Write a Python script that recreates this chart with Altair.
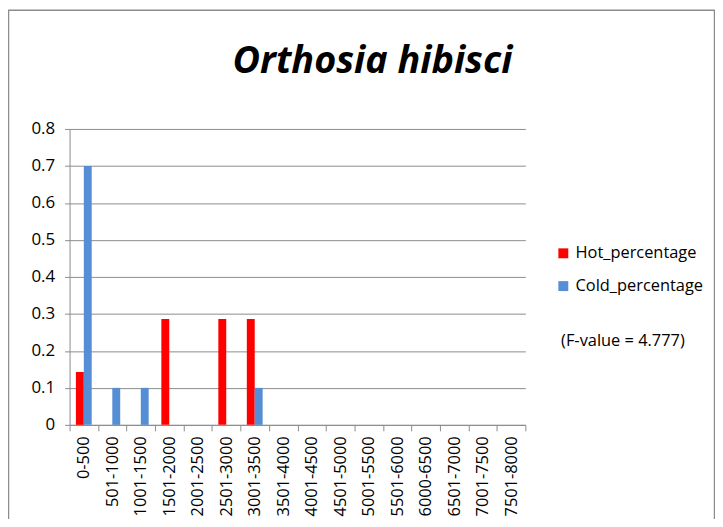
import altair as alt
import pandas as pd

categories = ["0-500", "501-1000", "1001-1500", "1501-2000", "2001-2500", "2501-3000",
              "3001-3500", "3501-4000", "4001-4500", "4501-5000", "5001-5500", "5501-6000",
              "6000-6500", "6501-7000", "7001-7500", "7501-8000"]
hot_percentage = [0.143, 0, 0, 0.286, 0, 0.286, 0.286, 0, 0, 0, 0, 0, 0, 0, 0, 0]
cold_percentage = [0.7, 0.1, 0.1, 0, 0, 0, 0.1, 0, 0, 0, 0, 0, 0, 0, 0, 0]
series_names = ["Hot_percentage", "Cold_percentage"]
series_colors = ["#FF0000", "#558ED5"]
y_ticks = [0, 0.1, 0.2, 0.3, 0.4, 0.5, 0.6, 0.7, 0.8]
title_text = "Orthosia hibisci"
note_text = "(F-value = 4.777)"

rows = []
for c, h, k in zip(categories, hot_percentage, cold_percentage):
    rows.append({"category": c, "series": series_names[0], "value": h})
    rows.append({"category": c, "series": series_names[1], "value": k})
df = pd.DataFrame(rows)

FONT = "Open Sans"
GRAY = "#8C8C8C"

bars = alt.Chart(df).mark_bar().encode(
    x=alt.X("category:N", sort=categories,
            scale=alt.Scale(paddingInner=0, paddingOuter=0),
            axis=alt.Axis(title=None, labelAngle=-90, tickBand="extent",
                          labelFontSize=16.5, labelColor="#000000", labelPadding=5,
                          tickSize=6, tickColor=GRAY, domainColor=GRAY, grid=False)),
    xOffset=alt.XOffset("series:N", sort=series_names,
                        scale=alt.Scale(paddingInner=0, paddingOuter=0.8)),
    y=alt.Y("value:Q", scale=alt.Scale(domain=[0, 0.8], nice=False),
            axis=alt.Axis(title=None, values=y_ticks,
                          labelExpr="datum.value == 0 ? '0' : format(datum.value, '.1f')",
                          labelFontSize=17, labelColor="#000000", labelPadding=10,
                          tickSize=5, tickColor=GRAY, domainColor=GRAY,
                          grid=True, gridColor=GRAY)),
    color=alt.Color("series:N", sort=series_names,
                    scale=alt.Scale(domain=series_names, range=series_colors),
                    legend=alt.Legend(title=None, orient="none", legendX=489, legendY=117,
                                      symbolType="square", symbolSize=100,
                                      symbolStrokeWidth=0, labelFontSize=16.5,
                                      labelColor="#000000", labelOffset=4,
                                      rowPadding=16, padding=0)),
)

note = alt.Chart(pd.DataFrame({"t": [note_text]})).mark_text(
    align="left", baseline="middle", fontSize=16.5, font=FONT, color="#000000"
).encode(text="t:N", x=alt.value(495), y=alt.value(214))

title = alt.Chart(pd.DataFrame({"t": [title_text]})).mark_text(
    align="center", baseline="alphabetic", fontSize=38, font=FONT,
    fontStyle="italic", fontWeight="bold", color="#000000"
).encode(text="t:N", x=alt.value(305), y=alt.value(-56))

frame = alt.Chart(pd.DataFrame({"a": [0]})).mark_rect(
    fill=None, stroke=GRAY, strokeWidth=1.5
).encode(x=alt.value(-61.5), x2=alt.value(649.5), y=alt.value(-119.5), y2=alt.value(420))

chart = alt.layer(frame, bars, note, title).properties(
    width=459, height=298,
    autosize=alt.AutoSizeParams(type="none"),
    padding={"left": 62, "top": 120, "right": 191, "bottom": 93},
).configure_view(stroke=None).configure_axis(labelFont=FONT).configure_legend(labelFont=FONT)

chart.save("out.html", embed_options={"renderer": "svg", "actions": False})
